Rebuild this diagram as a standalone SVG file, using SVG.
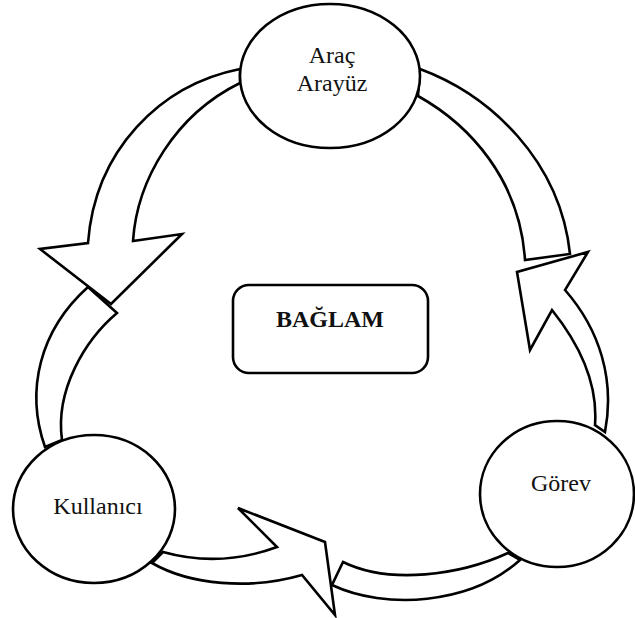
<svg xmlns="http://www.w3.org/2000/svg" width="635" height="618" viewBox="0 0 635 618">
<style>
.c{fill:#fff;stroke:#000;stroke-width:2.6;stroke-linejoin:miter}
.n{fill:#fff;stroke:#000;stroke-width:2.6}
.t{font-family:"Liberation Serif","Times New Roman",serif;font-size:24px;fill:#111;text-anchor:middle}
.b{font-weight:bold}
</style>
<rect width="635" height="618" fill="#fff"/>
<g id="connectors">
  <!-- Araç Arayüz -> Kullanıcı -->
  <path class="c" d="M240,69 C160,85 95,150 88,243 L40,249 L111,304 L182,234 L133,241 C137,180 175,115 240,83 Z"/>
  <path class="c" d="M45,447 C25,390 40,330 88,287 L117,313 C85,340 55,390 62,440 Z"/>
  <!-- Kullanıcı -> Görev -->
  <path class="c" d="M163,552 Q220,568 277,547 L238,508 L325,542 L335,615 L302,575 C250,590 190,585 152,563 Z"/>
  <path class="c" d="M508,553 C460,575 390,585 343,562 L332,585 C385,610 470,605 520,560 Z"/>
  <!-- Görev -> Araç Arayüz -->
  <path class="c" d="M605,432 C615,380 600,330 565,290 L588,252 L517,272 L530,350 L552,310 C580,345 598,385 595,425 Z"/>
  <path class="c" d="M420,69 C490,95 560,160 570,254 L525,260 C520,180 470,125 418,96 Z"/>
</g>
<g id="node-arac-arayuz">
  <ellipse class="n" cx="330" cy="76" rx="90" ry="72"/>
  <text class="t" x="332" y="63">Araç</text>
  <text class="t" x="332" y="91">Arayüz</text>
</g>
<g id="node-kullanici">
  <ellipse class="n" cx="94" cy="509" rx="81" ry="74"/>
  <text class="t" x="98" y="514">Kullanıcı</text>
</g>
<g id="node-gorev">
  <ellipse class="n" cx="557" cy="494" rx="77" ry="73"/>
  <text class="t" x="561" y="491">Görev</text>
</g>
<g id="node-baglam">
  <rect class="n" x="233" y="285" width="195" height="88" rx="16"/>
  <text class="t b" x="330" y="327">BAĞLAM</text>
</g>
</svg>
